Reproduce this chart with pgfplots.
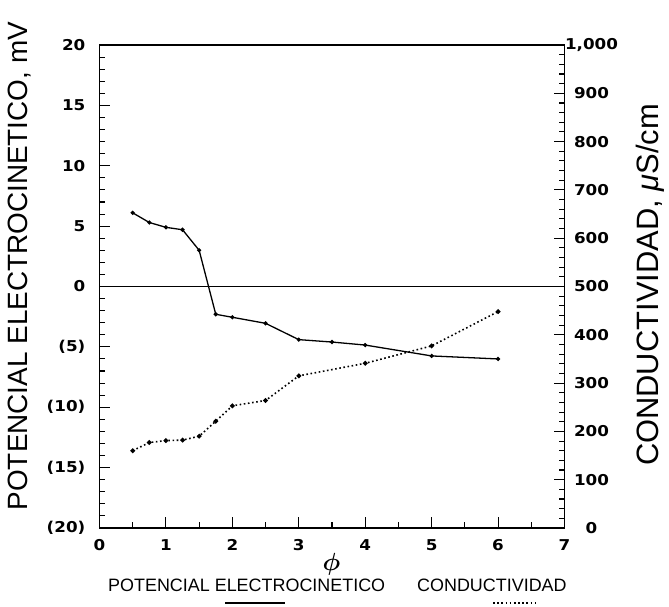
\documentclass[border=0pt]{standalone}
\usepackage{pgfplots}
\usepackage{pgfplotstable}
\pgfplotsset{compat=1.18}
\usepackage{fontspec}
\setmainfont{Liberation Sans}
\newfontfamily\tkfont{DejaVu Sans}
\usepackage{bm}
\newcommand\tl[1]{\scalebox{1.12}[1]{\tkfont\bfseries\fontsize{15}{15}\selectfont #1}}

\pgfplotstableread{
x y
0.5 6.1
0.75 5.3
1 4.9
1.25 4.7
1.5 3.0
1.75 -2.3
2 -2.55
2.5 -3.05
3 -4.4
3.5 -4.6
4 -4.85
5 -5.75
6 -6.0
}\pot

\pgfplotstableread{
x y
0.5 160
0.75 177
1 181
1.25 182
1.5 190
1.75 221
2 253
2.5 264
3 315
4 341
5 377
6 448
}\cond

\begin{document}
\begin{tikzpicture}
\begin{axis}[
  at={(0,0)}, anchor=south west,
  scale only axis, width=465bp, height=483bp,
  xmin=0, xmax=7, ymin=-20, ymax=20,
  axis line style={line width=1.1pt},
  xtick={0,1,...,7}, xticklabels={\tl{0},\tl{1},\tl{2},\tl{3},\tl{4},\tl{5},\tl{6},\tl{7}},
  minor x tick num=1,
  ytick={-20,-15,...,20},
  yticklabels={\tl{(20)},\tl{(15)},\tl{(10)},\tl{(5)},\tl{0},\tl{5},\tl{10},\tl{15},\tl{20}},
  minor y tick num=4,
  xtick pos=bottom, ytick pos=left, tick align=inside,
  major tick length=11bp, minor tick length=6bp,
  every tick/.style={black, line width=1.1pt},
  yticklabel style={anchor=east, inner sep=0pt, xshift=-14bp},
  xticklabel style={anchor=center, inner sep=0pt, yshift=-17bp},
  xlabel={\fontsize{25}{25}\selectfont$\bm{\phi}$},
  xlabel style={at={([yshift=-36bp]axis description cs:0.499,0)}, anchor=center, inner sep=0pt},
  ylabel={\fontsize{28}{28}\selectfont POTENCIAL ELECTROCINETICO, mV},
  ylabel style={at={([xshift=-79.5bp]axis description cs:0,0.542)}, anchor=center, inner sep=0pt},
  clip=false,
]
\addplot[black, line width=1pt, forget plot] coordinates {(0,0) (7,0)};
\addplot[black, line width=1.3pt, mark=*, mark size=1.4pt] table[x=x,y=y] {\pot};
\end{axis}
\begin{axis}[
  at={(0,0)}, anchor=south west,
  scale only axis, width=465bp, height=483bp,
  xmin=0, xmax=7, ymin=0, ymax=1000,
  axis x line=none, axis y line*=right,
  axis line style={line width=1.1pt},
  ytick={0,100,...,1000},
  yticklabels={\tl{0},\tl{100},\tl{200},\tl{300},\tl{400},\tl{500},\tl{600},\tl{700},\tl{800},\tl{900},\tl{1,000}},
  minor y tick num=4,
  tick align=inside,
  major tick length=10bp, minor tick length=5bp,
  every tick/.style={black, line width=1.1pt},
  yticklabel style={anchor=center, inner sep=0pt, xshift=27bp},
  ylabel={\fontsize{31}{31}\selectfont CONDUCTIVIDAD, \textit{μ}S/cm},
  ylabel style={at={([xshift=86bp]axis description cs:1,0.503)}, anchor=center, inner sep=0pt},
  clip=false,
]
\addplot[black, line width=1.6pt, dash pattern=on 1.6pt off 2.6pt, mark=*, mark size=1.5pt, mark options={solid}] table[x=x,y=y] {\cond};
\end{axis}
\node[anchor=west, inner sep=0pt, font=\fontsize{18}{18}\selectfont] at (8.5bp,-57bp) {POTENCIAL ELECTROCINETICO};
\node[anchor=west, inner sep=0pt, font=\fontsize{18}{18}\selectfont] at (317.5bp,-57bp) {CONDUCTIVIDAD};
\draw[line width=1.3pt] (125.5bp,-75bp) -- (185.5bp,-75bp);
\draw[line width=1.6pt, dash pattern=on 1.6pt off 2.6pt] (393.5bp,-75bp) -- (438.5bp,-75bp);
\pgfresetboundingbox
\path[use as bounding box] (-99.5bp,-79bp) rectangle (569.5bp,528bp);
\end{tikzpicture}
\end{document}
